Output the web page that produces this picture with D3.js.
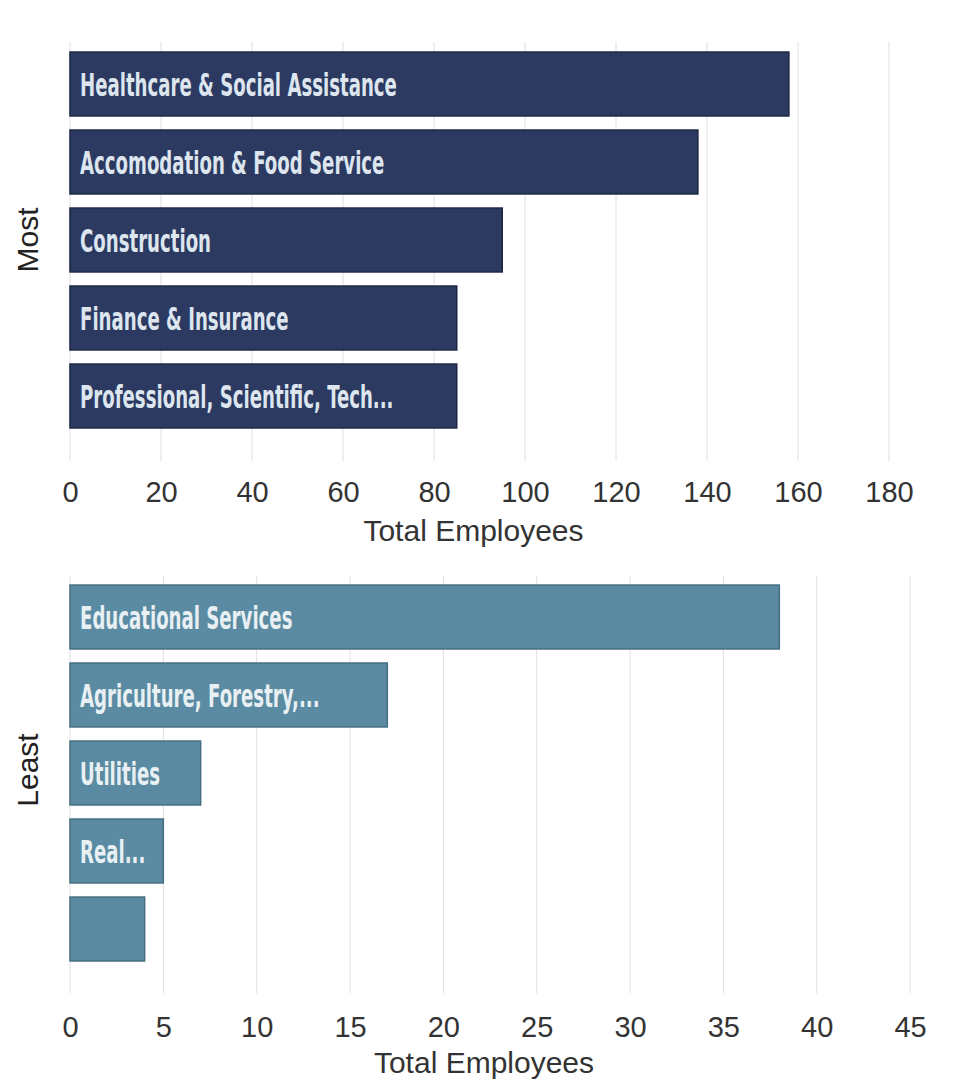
<!DOCTYPE html>
<html>
<head>
<meta charset="utf-8">
<script src="https://cdn.jsdelivr.net/npm/d3@7"></script>
<style>
  html, body { margin: 0; padding: 0; background: #ffffff; }
  svg { display: block; }
</style>
</head>
<body>
<svg id="chart" width="968" height="1082"></svg>
<script>
// Industries with the most employees
const mostCategories = [
  "Healthcare & Social Assistance",
  "Accomodation & Food Service",
  "Construction",
  "Finance & Insurance",
  "Professional, Scientific, Tech..."
];
const mostValues = [158, 138, 95, 85, 85];
const mostTicks = [0, 20, 40, 60, 80, 100, 120, 140, 160, 180];

// Industries with the fewest employees
const leastCategories = [
  "Educational Services",
  "Agriculture, Forestry,...",
  "Utilities",
  "Real...",
  ""
];
const leastValues = [38, 17, 7, 5, 4];
const leastTicks = [0, 5, 10, 15, 20, 25, 30, 35, 40, 45];

const svg = d3.select("#chart");
const axisFont = "'Liberation Sans', Arial, sans-serif";
const barFont = "'Liberation Sans Narrow', 'DejaVu Sans Condensed', 'Roboto', sans-serif";

function panel(cfg) {
  const data = cfg.categories.map((c, i) => ({ key: i, label: c, value: cfg.values[i] }));
  const x = d3.scaleLinear().domain([0, cfg.ticks[cfg.ticks.length - 1]]).range([70, cfg.xEnd]);
  const y = d3.scaleBand().domain(data.map(d => d.key))
    .range(cfg.yRange).paddingInner(0.18).paddingOuter(0.09);

  const g = svg.append("g");

  // vertical gridlines
  g.append("g").selectAll("line").data(cfg.ticks).join("line")
    .attr("x1", d => x(d)).attr("x2", d => x(d))
    .attr("y1", cfg.gridTop).attr("y2", cfg.gridBottom)
    .attr("stroke", "#dedede").attr("stroke-width", 1);

  // bars
  g.append("g").selectAll("rect").data(data).join("rect")
    .attr("x", x(0)).attr("y", d => y(d.key))
    .attr("width", d => x(d.value) - x(0))
    .attr("height", y.bandwidth())
    .attr("fill", cfg.fill)
    .attr("stroke", cfg.stroke).attr("stroke-width", 1.5);

  // labels inside bars
  const labels = g.append("g").selectAll("text").data(data).join("text")
    .attr("x", x(0) + 10)
    .attr("y", d => y(d.key) + y.bandwidth() / 2)
    .attr("dy", "0.36em")
    .attr("font-family", barFont)
    .attr("font-weight", "bold")
    .attr("font-size", 32)
    .attr("fill", cfg.textFill)
    .text(d => d.label);

  // axis: labels only, no domain line or tick marks
  const axis = d3.axisBottom(x).tickValues(cfg.ticks).tickSize(0).tickPadding(0);
  const ax = g.append("g").attr("transform", `translate(0,${cfg.tickY})`).call(axis);
  ax.select(".domain").remove();
  ax.selectAll("text")
    .attr("font-family", axisFont).attr("font-size", 29).attr("fill", "#333")
    .attr("dy", "0.36em").attr("y", 0);

  g.append("text")
    .attr("x", (x(0) + x(cfg.ticks[cfg.ticks.length - 1])) / 2 - 6)
    .attr("y", cfg.titleY).attr("dy", "0.36em")
    .attr("text-anchor", "middle")
    .attr("font-family", axisFont).attr("font-size", 30).attr("fill", "#333")
    .text("Total Employees");

  g.append("text")
    .attr("transform", `translate(27,${cfg.sideY}) rotate(-90)`)
    .attr("dy", "0.36em")
    .attr("text-anchor", "middle")
    .attr("font-family", axisFont).attr("font-size", 30).attr("fill", "#222")
    .text(cfg.side);

  return labels;
}

const topLabels = panel({
  categories: mostCategories, values: mostValues, ticks: mostTicks,
  xEnd: 889, yRange: [45, 435], gridTop: 42, gridBottom: 461,
  tickY: 492, titleY: 530, side: "Most", sideY: 240,
  fill: "#2c3a62", stroke: "#1e2844", textFill: "#dde6ee"
});
const bottomLabels = panel({
  categories: leastCategories, values: leastValues, ticks: leastTicks,
  xEnd: 910, yRange: [578, 968], gridTop: 576, gridBottom: 993,
  tickY: 1027, titleY: 1062, side: "Least", sideY: 770,
  fill: "#5a8ba2", stroke: "#476f84", textFill: "#e8f0f3"
});

// condense the in-bar labels horizontally
const ref = topLabels.filter((d, i) => i === 0).node();
const w = ref.getComputedTextLength();
const k = w > 0 ? 317 / w : 1;
[topLabels, bottomLabels].forEach(sel => {
  sel.attr("transform", function () {
    const x0 = +this.getAttribute("x");
    return `translate(${x0},0) scale(${k},1) translate(${-x0},0)`;
  });
});
</script>
</body>
</html>
